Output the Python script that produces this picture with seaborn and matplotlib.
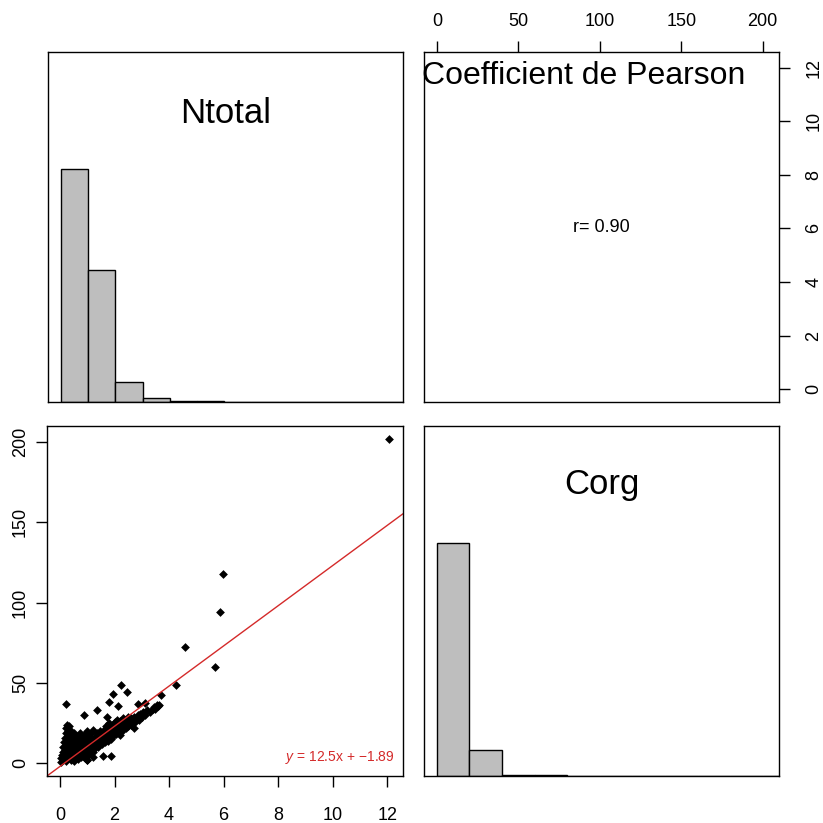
import numpy as np
import pandas as pd
import seaborn as sns
import matplotlib.pyplot as plt

# diagonal histograms: bin edges and counts
ntotal_edges = list(range(0, 14, 1))
ntotal_counts = [600, 340, 51, 10, 2, 3, 0, 0, 0, 0, 0, 0, 1]
corg_edges = list(range(0, 240, 20))
corg_counts = [897, 100, 5, 2, 1, 1, 0, 0, 0, 0, 1]

# scatter points (Ntotal, Corg), estimated from the lower panel
ntotal = [0.05, 0.05, 0.08, 0.1, 0.1, 0.12, 0.15, 0.15, 0.18, 0.18, 0.2, 0.2, 0.22, 0.22,
          0.25, 0.25, 0.27, 0.28, 0.3, 0.3, 0.3, 0.32, 0.33, 0.35, 0.35, 0.37, 0.38, 0.4,
          0.4, 0.4, 0.42, 0.45, 0.45, 0.47, 0.48, 0.5, 0.5, 0.5,
          0.55, 0.55, 0.55, 0.6, 0.6, 0.6, 0.65, 0.65, 0.65, 0.7, 0.7, 0.72, 0.75, 0.75,
          0.75, 0.8, 0.8, 0.8, 0.85, 0.85, 0.85, 0.9, 0.9, 0.9, 0.95, 0.95, 1.0, 1.0, 1.0, 1.0,
          1.05, 1.05, 1.1, 1.1, 1.1, 1.15, 1.15, 1.2, 1.2, 1.2, 1.25, 1.25, 1.3, 1.3, 1.35,
          1.35, 1.4, 1.4, 1.45, 1.45, 1.5, 1.5, 1.22, 0.98, 1.59, 1.86,
          1.55, 1.55, 1.6, 1.6, 1.65, 1.65, 1.7, 1.7, 1.71, 1.75, 1.75, 1.8, 1.8, 1.85, 1.85,
          1.9, 1.9, 1.95, 1.95, 2.0, 2.0,
          2.05, 2.05, 2.1, 2.1, 2.15, 2.15, 2.2, 2.2, 2.2, 2.25, 2.3, 2.3, 2.35, 2.4, 2.4,
          2.45, 2.5, 2.5,
          2.55, 2.6, 2.6, 2.65, 2.7, 2.7, 2.75, 2.8, 2.85, 2.9, 2.95, 3.0,
          3.05, 3.1, 3.2, 3.3, 3.4, 3.45, 3.5, 3.55, 3.6, 3.62,
          0.22, 0.86, 1.34, 1.8, 1.93, 2.25, 2.46, 2.14, 2.85, 3.12, 3.69, 4.27, 4.6, 5.7,
          5.87, 5.97, 12.07]
corg = [1, 3, 5, 2, 7, 10, 4, 13, 8, 16, 1.5, 11, 19, 22,
        6, 14, 24, 17, 3, 9, 20, 12, 23, 5, 15, 18, 21, 2,
        8, 11, 14, 17, 4, 6, 10, 13, 19, 1.5,
        3, 8, 15, 5, 11, 17, 2.5, 9, 13, 6, 16, 19, 4, 10,
        14, 7, 12, 17, 5, 9, 15, 3, 11, 18, 7, 13, 2, 9, 16, 20,
        6, 12, 8, 14, 18.5, 10, 16, 7, 12, 21, 14, 9, 11, 17, 13,
        19, 10, 15, 12, 20, 14, 17, 4.1, 2.1, 4.5, 4.5,
        12, 18, 15, 21, 13, 19, 16, 23, 29, 14, 20, 18, 25, 15, 22,
        19, 24, 17, 21, 20, 26,
        18, 23, 21, 27, 19, 24, 17.6, 22, 26.5, 25, 21, 28, 24, 22, 27,
        25, 23, 29,
        26, 24, 28, 27, 22, 29, 26, 28, 30, 27, 31, 29,
        32, 30, 33, 32, 34, 35, 34, 36, 35.5, 36.5,
        37, 30, 33, 38, 43, 48.7, 44.6, 35.6, 37, 37.7, 42.3, 48.7, 72.4, 60,
        94, 118, 202]

slope, intercept = 12.5, -1.89
r_value = 0.90

sns.set_style("white")
plt.rcParams["font.family"] = ["Liberation Sans", "DejaVu Sans"]
plt.rcParams["mathtext.fontset"] = "custom"
plt.rcParams["mathtext.it"] = "Liberation Sans:italic"
plt.rcParams["mathtext.rm"] = "Liberation Sans"
for key in ("text.color", "xtick.color", "ytick.color", "axes.labelcolor"):
    plt.rcParams[key] = "black"

W = 823
fig = plt.figure(figsize=(8.23, 8.23), dpi=100)


def box(l, t, r, b):
    return [l / W, 1 - b / W, (r - l) / W, (b - t) / W]


ax_n = fig.add_axes(box(48, 52, 403, 402))
ax_r = fig.add_axes(box(424, 52, 779, 402))
ax_s = fig.add_axes(box(47, 426, 403, 776))
ax_c = fig.add_axes(box(424, 426, 779, 776))

nlim = (-0.48, 12.58)
clim = (-7.9, 210)

for ax in (ax_n, ax_r, ax_s, ax_c):
    for sp in ax.spines.values():
        sp.set_visible(True)
        sp.set_color("black")
        sp.set_linewidth(1.0)


# diagonal: histograms scaled to max 1 on a 0..1.5 range
def diag_hist(ax, edges, counts, xlim, label, label_y):
    df = pd.DataFrame({
        "mid": [(a + b) / 2 for a, b in zip(edges[:-1], edges[1:])],
        "h": [c / max(counts) for c in counts],
    })
    sns.histplot(data=df, x="mid", weights="h", bins=edges, ax=ax,
                 color="#BEBEBE", edgecolor="black", linewidth=1, alpha=1)
    ax.set_xlim(*xlim)
    ax.set_ylim(0, 1.5)
    ax.set_xticks([])
    ax.set_yticks([])
    ax.set_xlabel("")
    ax.set_ylabel("")
    ax.text(0.5, label_y, label, transform=ax.transAxes, ha="center",
            va="baseline", fontsize=25)


diag_hist(ax_n, ntotal_edges, ntotal_counts, nlim, "Ntotal", 0.796)
diag_hist(ax_c, corg_edges, corg_counts, clim, "Corg", 0.806)

# lower panel: scatter with regression line
sns.scatterplot(x=ntotal, y=corg, ax=ax_s, marker="D", s=20, color="black",
                linewidth=0)
ax_s.axline((0, intercept), slope=slope, color="#D42A2A", linewidth=1.0)
ax_s.set_xlim(*nlim)
ax_s.set_ylim(*clim)
ax_s.set_xticks(range(0, 13, 2))
ax_s.set_yticks(range(0, 201, 50))
ax_s.tick_params(axis="x", direction="out", length=8, width=1, labelsize=13,
                 pad=14, bottom=True)
ax_s.tick_params(axis="y", direction="out", length=8, width=1, labelsize=13,
                 pad=5, left=True)
for lab in ax_s.get_yticklabels():
    lab.set_rotation(90)
    lab.set_va("center")
ax_s.text(0.978, 0.043, "$y$ = 12.5x + \u22121.89", transform=ax_s.transAxes,
          ha="right", va="baseline", fontsize=10, color="#D42A2A")

# upper panel: correlation text
ax_r.set_xlim(*clim)
ax_r.set_ylim(*nlim)
ax_r.xaxis.tick_top()
ax_r.yaxis.tick_right()
ax_r.set_xticks(range(0, 201, 50))
ax_r.set_yticks(range(0, 13, 2))
ax_r.tick_params(axis="x", direction="out", length=8, width=1, labelsize=13,
                 pad=8, top=True)
ax_r.tick_params(axis="y", direction="out", length=8, width=1, labelsize=13,
                 pad=11, right=True)
for lab in ax_r.get_yticklabels():
    lab.set_rotation(90)
    lab.set_va("center")
ax_r.text(0.5, 0.5, f"r= {r_value:.2f}", transform=ax_r.transAxes,
          ha="center", va="center", fontsize=13)
ax_r.text(-0.006, 0.975, "Coefficient de Pearson", transform=ax_r.transAxes,
          ha="left", va="top", fontsize=23)

fig.savefig("out.png", dpi=100)
